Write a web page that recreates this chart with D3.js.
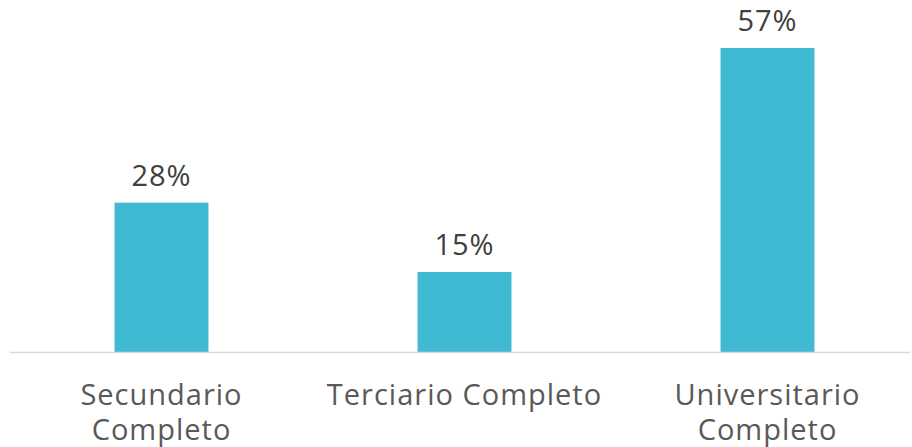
<!DOCTYPE html>
<html>
<head>
<meta charset="utf-8">
<script src="https://cdn.jsdelivr.net/npm/d3@7"></script>
<style>
    body { margin: 0; background: #fff; }
    text { font-family: "Open Sans", sans-serif; }
</style>
</head>
<body>
<div id="chart"></div>
<script>
const categories = [['Secundario', 'Completo'], ['Terciario Completo'], ['Universitario', 'Completo']];
const values = [28, 15, 57];

const width = 912;
const height = 447;
const baseline = 352;

const svg = d3.select('#chart')
    .append('svg')
    .attr('width', width)
    .attr('height', height);

const xScale = d3.scaleBand()
    .domain(d3.range(values.length))
    .range([10, 919])
    .paddingInner(0.69)
    .paddingOuter(0.345);

const yScale = d3.scaleLinear()
    .domain([0, 57])
    .range([baseline, 48]);

// bars
svg.append('g')
    .selectAll('rect')
    .data(values)
    .join('rect')
    .attr('x', (d, i) => xScale(i))
    .attr('y', (d) => yScale(d))
    .attr('width', xScale.bandwidth())
    .attr('height', (d) => baseline - yScale(d))
    .attr('fill', '#40B9D3');

// baseline
svg.append('line')
    .attr('x1', 10)
    .attr('x2', 910)
    .attr('y1', baseline + 0.5)
    .attr('y2', baseline + 0.5)
    .attr('stroke', '#d9d9d9')
    .attr('stroke-width', 1.5);

// value labels
svg.append('g')
    .selectAll('text')
    .data(values)
    .join('text')
    .attr('x', (d, i) => xScale(i) + xScale.bandwidth() / 2)
    .attr('y', (d) => yScale(d) - 17)
    .attr('text-anchor', 'middle')
    .attr('font-size', 29)
    .attr('letter-spacing', 1)
    .attr('fill', '#404040')
    .text((d) => d + '%');

// category labels
const cats = svg.append('g')
    .selectAll('text')
    .data(categories)
    .join('text')
    .attr('x', (d, i) => xScale(i) + xScale.bandwidth() / 2)
    .attr('y', 405)
    .attr('text-anchor', 'middle')
    .attr('font-size', 29)
    .attr('letter-spacing', 1)
    .attr('fill', '#595959');

cats.each(function (d) {
    const t = d3.select(this);
    d.forEach((line, j) => {
        t.append('tspan')
            .attr('x', t.attr('x'))
            .attr('dy', j === 0 ? 0 : 35)
            .text(line);
    });
});
</script>
</body>
</html>
